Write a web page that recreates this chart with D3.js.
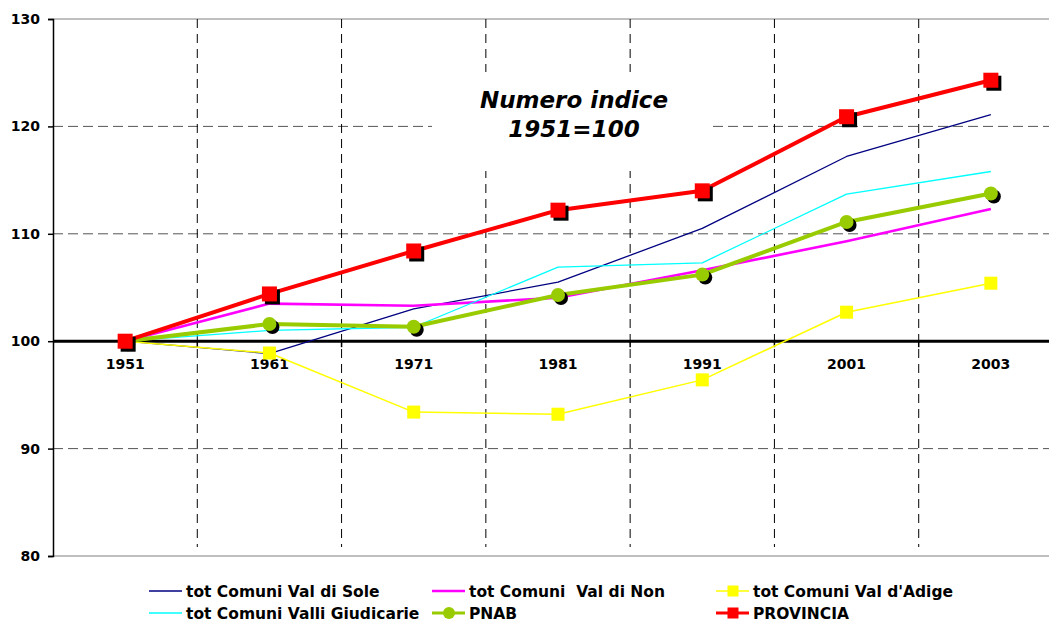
<!DOCTYPE html>
<html>
<head>
<meta charset="utf-8">
<script src="https://cdn.jsdelivr.net/npm/d3@7"></script>
<style>
  body { margin: 0; background: #fff; }
  text { font-family: "DejaVu Sans", Verdana, sans-serif; font-weight: bold; fill: #000; }
</style>
</head>
<body>
<svg width="1049" height="619"></svg>
<script>
const years = ['1951', '1961', '1971', '1981', '1991', '2001', '2003'];
const valDiSole = [100, 98.85, 103.0, 105.5, 110.5, 117.2, 121.1];
const valDiNon = [100, 103.5, 103.3, 104.05, 106.6, 109.3, 112.3];
const valDAdige = [100, 98.9, 93.4, 93.2, 96.4, 102.7, 105.4];
const valliGiudicarie = [100, 101.0, 101.3, 106.9, 107.3, 113.7, 115.8];
const pnab = [100, 101.6, 101.35, 104.3, 106.2, 111.1, 113.75];
const provincia = [100, 104.4, 108.4, 112.2, 114.0, 120.9, 124.3];
const yTicks = [80, 90, 100, 110, 120, 130];

const series = [
  { name: 'tot Comuni Val di Sole', values: valDiSole, color: '#000080', width: 1.3, marker: null },
  { name: 'tot Comuni  Val di Non', values: valDiNon, color: '#FF00FF', width: 2.6, marker: null },
  { name: "tot Comuni Val d'Adige", values: valDAdige, color: '#FFFF00', width: 1.5, marker: 'square', size: 13, shadow: false },
  { name: 'tot Comuni Valli Giudicarie', values: valliGiudicarie, color: '#00FFFF', width: 1.3, marker: null },
  { name: 'PNAB', values: pnab, color: '#99CC00', width: 4, marker: 'circle', size: 14, shadow: true },
  { name: 'PROVINCIA', values: provincia, color: '#FF0000', width: 4, marker: 'square', size: 15, shadow: true }
];

const svg = d3.select('svg');
const plotLeft = 53, plotRight = 1063, plotTop = 19, plotBottom = 556;

const x = d3.scaleBand().domain(years).range([plotLeft, plotRight]).padding(0);
const y = d3.scaleLinear().domain([80, 130]).range([plotBottom, plotTop]);
const cx = d => x(d) + x.bandwidth() / 2;

// horizontal gridlines
svg.append('g')
  .selectAll('line')
  .data(yTicks.filter(t => t !== 100))
  .join('line')
    .attr('x1', plotLeft).attr('x2', 1049)
    .attr('y1', d => y(d)).attr('y2', d => y(d))
    .attr('stroke', d => (d === 80 || d === 130) ? '#808080' : '#555')
    .attr('stroke-width', 1)
    .attr('stroke-dasharray', d => (d === 80 || d === 130) ? null : '10,5');

// vertical gridlines at band boundaries
svg.append('g')
  .selectAll('line')
  .data(years.slice(1))
  .join('line')
    .attr('x1', d => x(d)).attr('x2', d => x(d))
    .attr('y1', plotTop).attr('y2', 547)
    .attr('stroke', '#000')
    .attr('stroke-width', 1)
    .attr('stroke-dasharray', '9,6');

// title box
const titleG = svg.append('g');
titleG.append('rect')
  .attr('x', 432).attr('y', 72).attr('width', 280).attr('height', 99)
  .attr('fill', '#fff');
titleG.append('text')
  .attr('x', 574).attr('y', 108)
  .attr('text-anchor', 'middle')
  .style('font-size', '23px').style('font-style', 'italic')
  .text('Numero indice');
titleG.append('text')
  .attr('x', 574).attr('y', 137)
  .attr('text-anchor', 'middle')
  .style('font-size', '23px').style('font-style', 'italic')
  .text('1951=100');

// y axis
const yAxis = svg.append('g')
  .attr('transform', `translate(${plotLeft},0)`)
  .call(d3.axisLeft(y).tickValues(yTicks).tickSize(5).tickPadding(8).tickFormat(d3.format('d')));
yAxis.select('.domain').attr('stroke', '#000').attr('stroke-width', 1.5);
yAxis.selectAll('.tick line').attr('stroke', '#000').attr('stroke-width', 1.5);
yAxis.selectAll('text').style('font-size', '14px').style('font-family', '"DejaVu Sans", sans-serif').style('font-weight', 'bold');

// x axis at 100
const xAxis = svg.append('g')
  .attr('transform', `translate(0,${y(100)})`)
  .call(d3.axisBottom(x).tickSize(0).tickPadding(18));
xAxis.select('.domain').remove();
xAxis.selectAll('text').style('font-size', '14px').style('font-family', '"DejaVu Sans", sans-serif').style('font-weight', 'bold');
svg.append('line')
  .attr('x1', plotLeft).attr('x2', 1049)
  .attr('y1', y(100)).attr('y2', y(100))
  .attr('stroke', '#000').attr('stroke-width', 3);
svg.append('g')
  .selectAll('line')
  .data(years.slice(1))
  .join('line')
    .attr('x1', d => x(d)).attr('x2', d => x(d))
    .attr('y1', y(100)).attr('y2', y(100) + 6)
    .attr('stroke', '#000').attr('stroke-width', 1.5);

// series
const line = d3.line().x((d, i) => cx(years[i])).y(d => y(d));

function drawMarker(g, s, px, py, shadow) {
  if (s.marker === 'square') {
    if (shadow) g.append('rect')
      .attr('x', px - s.size / 2 + 3).attr('y', py - s.size / 2 + 3)
      .attr('width', s.size).attr('height', s.size).attr('fill', '#000');
    g.append('rect')
      .attr('x', px - s.size / 2).attr('y', py - s.size / 2)
      .attr('width', s.size).attr('height', s.size).attr('fill', s.color);
  } else if (s.marker === 'circle') {
    if (shadow) g.append('circle')
      .attr('cx', px + 3).attr('cy', py + 3).attr('r', s.size / 2).attr('fill', '#000');
    g.append('circle')
      .attr('cx', px).attr('cy', py).attr('r', s.size / 2).attr('fill', s.color);
  }
}

series.forEach(s => {
  const g = svg.append('g');
  g.append('path')
    .attr('d', line(s.values))
    .attr('fill', 'none')
    .attr('stroke', s.color)
    .attr('stroke-width', s.width)
    .attr('stroke-linejoin', 'round');
  if (s.marker) {
    s.values.forEach((v, i) => drawMarker(g, s, cx(years[i]), y(v), s.shadow));
  }
});

// legend (second row sits at the bottom edge, as in the original)
const legendCols = [149, 432, 716];
const legendRows = [591, 613];
const legend = svg.append('g');
series.forEach((s, i) => {
  const lx = legendCols[i % 3];
  const ly = legendRows[Math.floor(i / 3)];
  legend.append('line')
    .attr('x1', lx).attr('x2', lx + 33)
    .attr('y1', ly).attr('y2', ly)
    .attr('stroke', s.color)
    .attr('stroke-width', Math.min(s.width, 3));
  if (s.marker) {
    drawMarker(legend, Object.assign({}, s, { size: s.marker === 'circle' ? 12 : 11 }), lx + 17, ly, false);
  }
  legend.append('text')
    .attr('x', lx + 37).attr('y', ly + 6)
    .style('font-size', '15.5px')
    .style('white-space', 'pre')
    .attr('xml:space', 'preserve')
    .text(s.name);
});
</script>
</body>
</html>
